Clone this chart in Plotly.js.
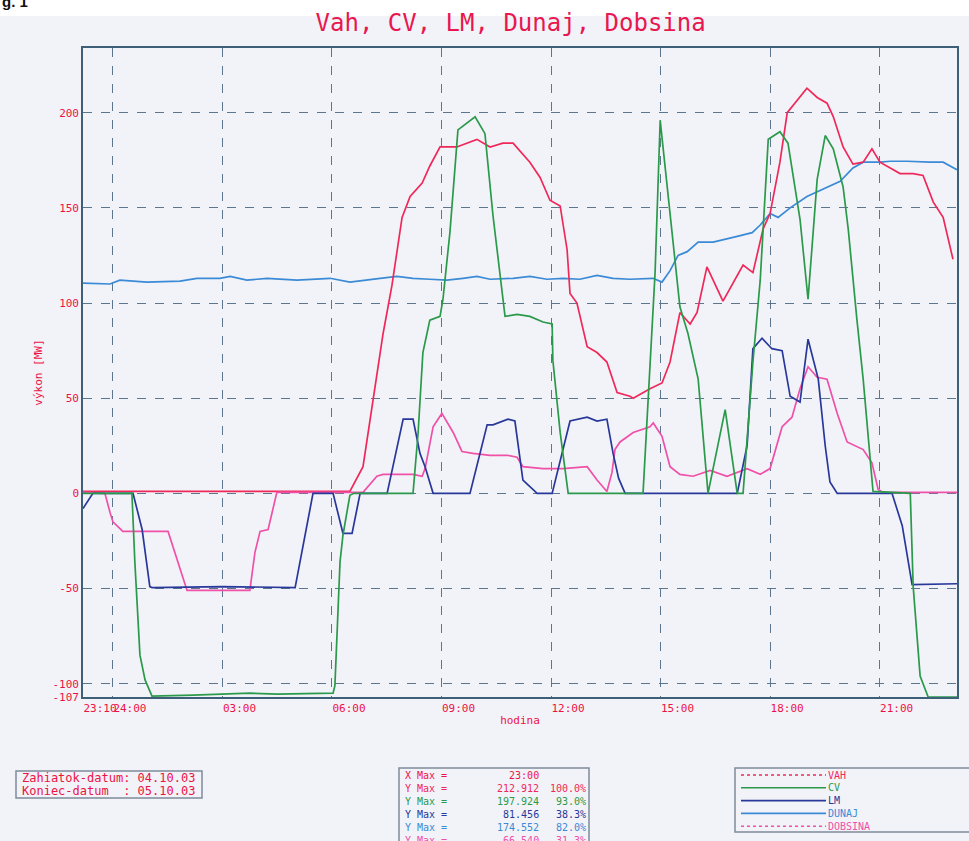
<!DOCTYPE html>
<html>
<head>
<meta charset="utf-8">
<script src="https://cdn.plot.ly/plotly-3.0.1.min.js"></script>
<style>
  html, body { margin: 0; padding: 0; background: #f2f3f8; }
  #chart { width: 969px; height: 841px; }
</style>
</head>
<body>
<div id="chart"></div>
<script>
// ---- Data (x = hours since midnight of 05.10.03, negative = 04.10.03) ----
const vahX = [-0.82, 6.49, 6.85, 7.12, 7.40, 7.64, 7.92, 8.14, 8.47, 8.68, 8.96, 9.42, 9.97, 10.33, 10.68, 10.96, 11.42, 11.70, 11.97, 12.25, 12.44, 12.52, 12.71, 12.99, 13.26, 13.53, 13.81, 14.16, 14.25, 14.71, 15.04, 15.26, 15.53, 15.81, 16.00, 16.27, 16.71, 17.26, 17.53, 17.81, 18.00, 18.27, 18.47, 19.01, 19.29, 19.56, 19.73, 20.00, 20.27, 20.55, 20.79, 21.01, 21.29, 21.56, 21.92, 22.19, 22.47, 22.74, 23.01];
const vahY = [1, 1, 14, 49, 84, 109, 145, 156, 163, 172, 182, 182, 186, 182, 184, 184, 174, 166, 154, 151, 128, 105, 100, 77, 74, 69, 53, 51, 50, 55, 58, 69, 95, 89, 95, 119, 101, 120, 116, 139, 147, 174, 200, 212.9, 208, 205, 198, 182, 173, 174, 181, 174, 171, 168, 168, 167, 153, 145, 123];

const cvX = [-0.82, 0.52, 0.60, 0.74, 0.88, 1.07, 2.20, 3.00, 3.75, 4.50, 5.50, 6.03, 6.08, 6.14, 6.22, 6.30, 6.41, 6.49, 6.60, 8.22, 8.36, 8.49, 8.68, 8.96, 9.04, 9.23, 9.45, 9.92, 10.19, 10.41, 10.74, 11.07, 11.42, 11.78, 12.03, 12.05, 12.25, 12.47, 14.52, 14.85, 14.99, 15.26, 15.53, 15.75, 16.03, 16.30, 16.77, 17.10, 17.26, 17.53, 17.73, 17.95, 18.27, 18.49, 18.82, 19.04, 19.29, 19.51, 19.73, 20.00, 20.14, 20.38, 20.55, 20.82, 21.84, 21.92, 22.11, 22.33, 23.12];
const cvY = [0, 0, -36, -85, -98, -106.5, -106, -105.5, -105, -105.5, -105, -105, -101, -71, -36, -22, -10, -1, 0, 0, 32, 74, 91, 93, 102, 137, 191, 197.9, 189, 146, 93, 94, 93, 90, 89, 70, 32, 0, 0, 116, 196, 147, 98, 84, 60, 0, 44, 0, 0, 69, 112, 186, 190, 184, 144, 102, 165, 188, 181, 161, 139, 91, 60, 1, 0, -49, -96, -107, -107];

const lmX = [-0.82, -0.55, 0.55, 0.80, 1.01, 1.07, 3.00, 4.99, 5.48, 6.03, 6.30, 6.55, 6.77, 7.51, 7.95, 8.22, 8.41, 8.55, 8.77, 9.78, 10.25, 10.41, 10.82, 11.01, 11.23, 11.62, 12.03, 12.52, 12.99, 13.26, 13.53, 13.70, 13.85, 14.03, 17.10, 17.37, 17.53, 17.78, 18.05, 18.33, 18.55, 18.82, 19.04, 19.32, 19.51, 19.64, 19.84, 21.34, 21.62, 21.89, 23.12];
const lmY = [-8, 0, 0, -19, -49, -49.5, -49, -49.5, 0, 0, -21, -21, 0, 0, 39, 39, 21, 14, 0, 0, 36, 36, 39, 38, 7, 0, 0, 38, 40, 38, 39, 21, 8, 0, 0, 25, 76, 81.5, 76, 75, 51, 48, 81, 60, 25, 6, 0, 0, -17, -48, -47.5];

const dunajX = [-0.82, -0.08, 0.19, 0.93, 1.84, 2.30, 2.93, 3.21, 3.67, 4.22, 5.04, 5.95, 6.49, 6.85, 7.32, 7.78, 8.22, 8.68, 9.15, 9.59, 9.97, 10.33, 10.96, 11.42, 11.89, 12.33, 12.79, 13.26, 13.70, 14.16, 14.52, 14.79, 15.04, 15.26, 15.48, 15.73, 16.03, 16.44, 17.10, 17.51, 17.73, 18.00, 18.22, 18.55, 19.01, 19.56, 19.92, 20.27, 20.55, 21.01, 21.29, 21.75, 22.11, 22.38, 22.74, 23.01, 23.12];
const dunajY = [110.5, 110, 112, 111, 111.5, 113, 113, 114, 112, 113, 112, 113, 111, 112, 113, 114, 113, 112.5, 112, 113, 114, 112.5, 113, 114, 112.5, 113, 112.5, 114.5, 113, 112.5, 113, 113, 111, 117, 125, 127, 132, 132, 135, 137, 141, 147, 145, 150, 156, 161, 164, 171, 174, 174, 174.5, 174.5, 174, 174, 174, 171, 170];

const dobsinaX = [-0.82, -0.22, -0.08, 0.00, 0.27, 1.51, 2.03, 3.75, 3.89, 4.03, 4.25, 4.44, 4.49, 6.85, 7.23, 7.40, 8.22, 8.47, 8.55, 8.77, 9.01, 9.32, 9.56, 9.86, 10.33, 10.80, 11.07, 11.23, 11.78, 12.33, 12.99, 13.26, 13.53, 13.67, 13.75, 13.89, 14.25, 14.71, 14.80, 15.04, 15.26, 15.53, 15.89, 16.36, 16.82, 17.37, 17.73, 18.00, 18.33, 18.60, 18.82, 19.04, 19.29, 19.56, 19.84, 20.11, 20.55, 20.79, 20.96, 21.10, 23.12];
const dobsinaY = [0.5, 0, -10, -15, -20, -20, -51, -51, -31, -20, -19, -3, 0.5, 0.5, 9, 10, 10, 9, 13, 35, 42, 32, 22, 21, 20, 20, 19, 14, 13, 13, 14, 7, 1, 11, 23, 27, 32, 35, 37, 30, 14, 10, 9, 12, 9, 13, 10, 13, 35, 40, 55, 66.5, 61, 60, 42, 27, 23, 16, 2, 0.5, 0.5];

const seriesNames = ['VAH', 'CV', 'LM', 'DUNAJ', 'DOBSINA'];
const seriesColors = ['#f0285a', '#2a9a4a', '#28389a', '#3a8ad6', '#f050a8'];

const xTickVals = [-0.82, 0, 3, 6, 9, 12, 15, 18, 21];
const xTickText = ['23:10', '24:00', '03:00', '06:00', '09:00', '12:00', '15:00', '18:00', '21:00'];
const yTickVals = [200, 150, 100, 50, 0, -50, -100, -107];
const yTickText = ['200', '150', '100', '50', '0', '-50', '-100', '-107'];

const startDate = '04.10.03';
const endDate = '05.10.03';
const xMaxLabel = '23:00';
const yMaxVals = ['212.912', '197.924', '81.456', '174.552', '66.540'];
const yMaxPct = ['100.0%', '93.0%', '38.3%', '82.0%', '31.3%'];

// ---- Layout helpers (pixel -> paper) ----
const W = 969, H = 841;
const ML = 83, MR = 12, MT = 48, MB = 144;
const PW = W - ML - MR, PH = H - MT - MB;
const px = v => (v - ML) / PW;
const py = v => (H - MB - v) / PH;

const RED = '#ee1144';
const MONO = 'DejaVu Sans Mono, monospace';

const xs = [vahX, cvX, lmX, dunajX, dobsinaX];
const ys = [vahY, cvY, lmY, dunajY, dobsinaY];
const traces = seriesNames.map((n, i) => ({
  type: 'scatter', mode: 'lines', name: n,
  x: xs[i], y: ys[i],
  line: { color: seriesColors[i], width: 1.7 }
}));
const order = [3, 0, 4, 2, 1];
const data = order.map(i => traces[i]);

const shapes = [];
const annotations = [];

// white margin at top of the scan
shapes.push({ type: 'rect', xref: 'paper', yref: 'paper', x0: px(0), x1: px(W), y0: py(0), y1: py(16), fillcolor: '#ffffff', line: { width: 0 }, layer: 'below' });
annotations.push({ xref: 'paper', yref: 'paper', x: px(0), y: py(1), xanchor: 'left', yanchor: 'middle', showarrow: false, text: '<b>g. 1</b>', font: { family: 'Liberation Sans, Arial', size: 15, color: '#111' } });

// left date box
shapes.push({ type: 'rect', xref: 'paper', yref: 'paper', x0: px(16), x1: px(202), y0: py(771), y1: py(798), line: { color: '#7f8c99', width: 1.5 } });
annotations.push({ xref: 'paper', yref: 'paper', x: px(20), y: py(778), xanchor: 'left', yanchor: 'middle', showarrow: false, text: 'Zahiatok-datum: ' + startDate, font: { family: MONO, size: 12, color: RED } });
annotations.push({ xref: 'paper', yref: 'paper', x: px(20), y: py(791), xanchor: 'left', yanchor: 'middle', showarrow: false, text: 'Koniec-datum  : '.replace(/ /g, '&nbsp;') + endDate, font: { family: MONO, size: 12, color: RED } });

// middle max box: three columns, each one multi-line annotation
shapes.push({ type: 'rect', xref: 'paper', yref: 'paper', x0: px(399), x1: px(589), y0: py(768), y1: py(860), line: { color: '#7f8c99', width: 1.5 } });
const colColors = [RED].concat(seriesColors);
const col1 = ['X Max ='].concat(yMaxVals.map(() => 'Y Max ='));
const col2 = [xMaxLabel].concat(yMaxVals);
const col3 = [''].concat(yMaxPct);
const colText = arr => arr.map((t, i) => '<span style="color:' + colColors[i] + '">' + (t || '&nbsp;') + '</span>').join('<br>');
const boxFont = { family: MONO, size: 10, color: RED };
annotations.push({ xref: 'paper', yref: 'paper', x: px(403), y: py(768), xanchor: 'left', yanchor: 'top', align: 'left', showarrow: false, text: colText(col1), font: boxFont });
annotations.push({ xref: 'paper', yref: 'paper', x: px(541), y: py(768), xanchor: 'right', yanchor: 'top', align: 'right', showarrow: false, text: colText(col2), font: boxFont });
annotations.push({ xref: 'paper', yref: 'paper', x: px(588), y: py(768), xanchor: 'right', yanchor: 'top', align: 'right', showarrow: false, text: colText(col3), font: boxFont });

// legend box
shapes.push({ type: 'rect', xref: 'paper', yref: 'paper', x0: px(735), x1: px(990), y0: py(768), y1: py(832), line: { color: '#7f8c99', width: 1.5 } });
const legDash = ['dot', 'solid', 'solid', 'solid', 'dot'];
seriesNames.forEach((n, i) => {
  const yy = 775 + i * 12.8;
  shapes.push({ type: 'line', xref: 'paper', yref: 'paper', x0: px(741), x1: px(826), y0: py(yy), y1: py(yy), line: { color: seriesColors[i], width: 1.6, dash: legDash[i] } });
  annotations.push({ xref: 'paper', yref: 'paper', x: px(826), y: py(yy), xanchor: 'left', yanchor: 'middle', showarrow: false, text: n, font: { family: MONO, size: 10, color: seriesColors[i] } });
});

const layout = {
  width: W, height: H,
  paper_bgcolor: '#f2f3f8', plot_bgcolor: '#f2f3f8',
  margin: { l: ML, r: MR, t: MT, b: MB },
  showlegend: false,
  title: { text: 'Vah, CV, LM, Dunaj, Dobsina', font: { family: MONO, size: 24, color: '#e8174f' }, x: 0.527, xref: 'container', y: 1 - 23 / H, yref: 'container', yanchor: 'middle' },
  xaxis: {
    range: [-0.82, 23.12], tickvals: xTickVals, ticktext: xTickText, tickangle: 0,
    ticks: '', ticklabelshift: 17, tickfont: { family: MONO, size: 11, color: RED },
    showgrid: true, gridcolor: '#5d7690', griddash: 'dash', gridwidth: 1,
    zeroline: false, showline: true, linecolor: '#3d5f78', linewidth: 1.8, mirror: true,
    title: { text: 'hodina', font: { family: MONO, size: 11, color: RED }, standoff: 2 }
  },
  yaxis: {
    range: [-107, 234], tickvals: yTickVals, ticktext: yTickText,
    ticks: '', tickfont: { family: MONO, size: 11, color: RED },
    showgrid: true, gridcolor: '#5d7690', griddash: 'dash', gridwidth: 1,
    zeroline: false, showline: true, linecolor: '#3d5f78', linewidth: 1.8, mirror: true,
    title: { text: 'výkon [MW]', font: { family: MONO, size: 11, color: RED }, standoff: 8 }
  },
  shapes: shapes,
  annotations: annotations
};

Plotly.newPlot('chart', data, layout, { displayModeBar: false, staticPlot: true });
</script>
</body>
</html>
